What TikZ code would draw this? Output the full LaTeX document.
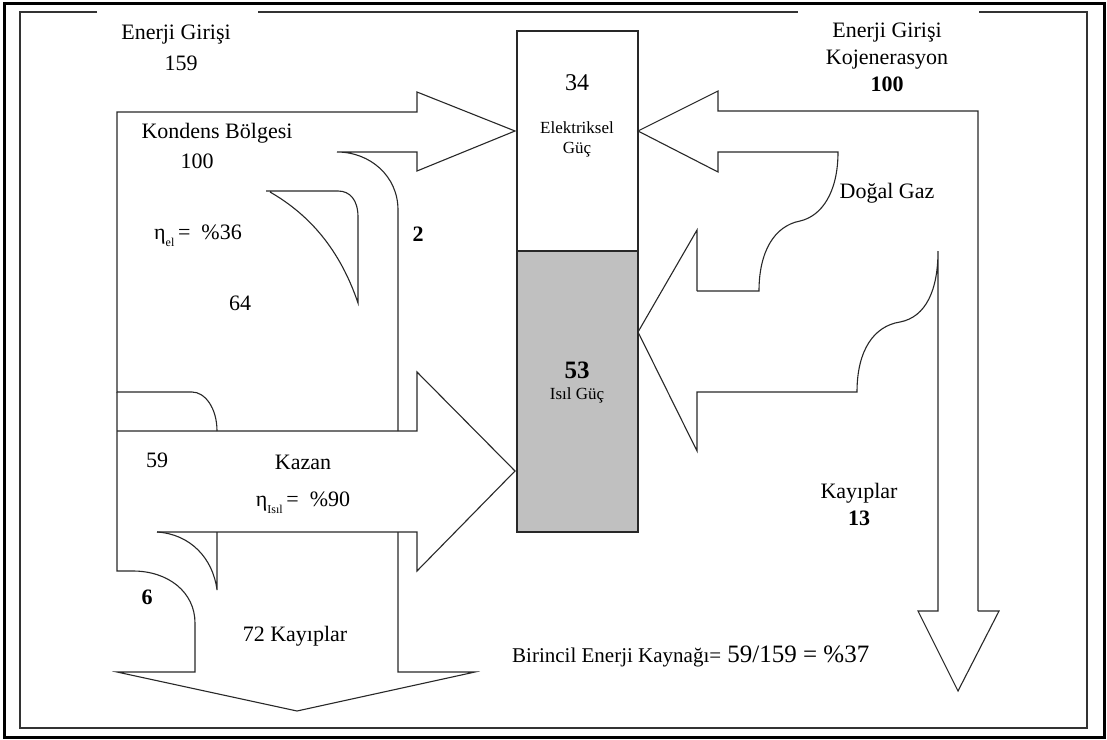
\documentclass[tikz,border=0pt]{standalone}
\usepackage{fontspec}
\setmainfont{Liberation Serif}
\definecolor{boxgray}{RGB}{192,192,192}
\definecolor{linegray}{RGB}{40,40,40}
\begin{document}
\begin{tikzpicture}[x=1pt,y=-1pt,line join=miter,
  flow/.style={draw=linegray,line width=1.1pt},
  lab/.style={font=\fontsize{22}{24}\selectfont,inner sep=0pt},
  blab/.style={font=\fontsize{22}{24}\selectfont\bfseries,inner sep=0pt},
  small/.style={font=\fontsize{17}{19}\selectfont,inner sep=0pt}]
\fill[white] (0,0) rectangle (1107,739);
\useasboundingbox (0,0) rectangle (1107,739);
% frames
\draw[line width=3pt,black] (4,3) rectangle (1104,737);
\draw[line width=1.8pt,black!80] (97,12) -- (20,12) -- (20,728) -- (1087,728) -- (1087,12) -- (979,12);
\draw[line width=1.8pt,black!80] (258,12) -- (798,12);
% power box
\draw[flow,fill=white] (517,31) rectangle (638,251);
\draw[flow,fill=boxgray] (517,251) rectangle (638,532);
% left: Kondens region and upper arrow
\draw[flow] (217,431) .. controls (217,408) and (205,392) .. (192,392) -- (117,392)
  -- (117,112) -- (417,112) -- (417,92) -- (515,131) -- (417,171) -- (417,152) -- (337,152)
  .. controls (370,152) and (398,176) .. (398,210) -- (398,431);
% small curved triangle (64)
\draw[flow] (266,191) -- (338,191) .. controls (350,191) and (358,200) .. (358,217) -- (358,303)
  .. controls (340,250) and (310,215) .. (270,192);
% Kazan arrow
\draw[flow] (117,392) -- (117,571) -- (133,571) .. controls (168,571) and (195,592) .. (195,623)
  -- (195,672) -- (117,672) -- (297,711) -- (475,672) -- (398,672) -- (398,532);
\draw[flow] (117,431) -- (417,431) -- (417,372) -- (515,471) -- (417,571) -- (417,532) -- (157,532);
\draw[flow] (157,532) .. controls (190,534) and (213,558) .. (217,590) -- (217,532);
% right: Kojenerasyon to electrical power
\draw[flow] (978,611) -- (978,111) -- (718,111) -- (718,91) -- (638,131) -- (718,172) -- (718,152) -- (838,152)
  .. controls (838,192) and (822,216) .. (800,221)
  .. controls (774,226) and (759,252) .. (759,291) -- (697,291);
% right: to thermal power
\draw[flow] (697,291) -- (697,230) -- (638,332) -- (697,451) -- (697,392) -- (857,392)
  .. controls (857,350) and (874,326) .. (900,322)
  .. controls (926,317) and (938,290) .. (938,251) -- (938,611) -- (918,611) -- (958,691) -- (999,611) -- (978,611);
% labels
\node[lab] (eg1) at (176,35) {Enerji Girişi};
\node[lab] (eg1v) at (181,63) {159};
\node[lab] (kb) at (217,133) {Kondens Bölgesi};
\node[lab] (kbv) at (197,161) {100};
\node[lab] (etael) at (198,236) {η\raisebox{-0.3em}{\fontsize{12}{12}\selectfont el}\,= \ \%36};
\node[lab] (v64) at (240,303) {64};
\node[blab] (v2) at (418,234) {2};
\node[lab,font=\fontsize{24}{26}\selectfont] (v34) at (577,83) {34};
\node[small] (el1) at (577,128) {Elektriksel};
\node[small] (el2) at (577,150) {Güç};
\node[blab,font=\fontsize{25}{27}\selectfont\bfseries] (v53) at (577,370) {53};
\node[small] (isil) at (577,395) {Isıl Güç};
\node[lab] (eg2) at (887,33) {Enerji Girişi};
\node[lab] (koj) at (887,60) {Kojenerasyon};
\node[blab] (kojv) at (887,84) {100};
\node[lab] (dg) at (887,193) {Doğal Gaz};
\node[lab] (v59) at (157,460) {59};
\node[lab] (kazan) at (303,462) {Kazan};
\node[lab] (etaisil) at (303,503) {η\raisebox{-0.3em}{\fontsize{12}{12}\selectfont Isıl}\,= \ \%90};
\node[blab] (v6) at (147,597) {6};
\node[lab] (kay72) at (295,636) {72 Kayıplar};
\node[lab] (kay) at (859,493) {Kayıplar};
\node[blab] (v13) at (859,518) {13};
\node[inner sep=0pt,anchor=base west] (bek) at (512,662) {\fontsize{21}{23}\selectfont Birincil Enerji Kaynağı=\fontsize{25}{27}\selectfont\ 59/159 = \%37};
\end{tikzpicture}
\end{document}
